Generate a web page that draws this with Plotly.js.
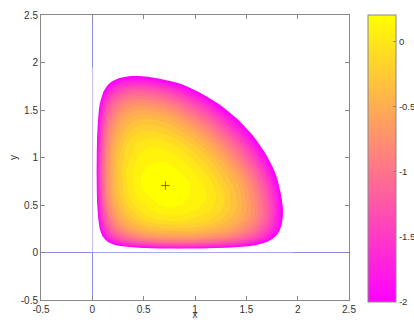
<!DOCTYPE html>
<html><head><meta charset="utf-8">
<script src="https://cdn.plot.ly/plotly-3.0.1.min.js"></script>
<style>html,body{margin:0;padding:0;background:#fff}</style></head><body>
<div id="chart" style="width:414px;height:320px"></div>
<script>
// sample positions of the surface (same for x and y)
const xGrid = [0, 0.025, 0.045, 0.07, 0.11, 0.16, 0.24, 0.34, 0.45, 0.58, 0.71, 0.84, 0.98, 1.13, 1.28, 1.42, 1.56, 1.68, 1.78, 1.86, 1.95];
const yGrid = [0, 0.025, 0.045, 0.07, 0.11, 0.16, 0.24, 0.34, 0.45, 0.58, 0.71, 0.84, 0.98, 1.13, 1.28, 1.42, 1.56, 1.68, 1.78, 1.86, 1.95];
// surface values; rows follow yGrid, columns follow xGrid (-2.77 = below the lowest level)
const zValues = [
 [-2.77,-2.77,-2.77,-2.77,-2.77,-2.77,-2.77,-2.77,-2.77,-2.77,-2.77,-2.77,-2.77,-2.77,-2.77,-2.77,-2.77,-2.77,-2.77,-2.77,-2.77],
 [-2.77,-2.77,-2.77,-2.77,-2.77,-2.77,-2.77,-2.77,-2.71,-2.62,-2.56,-2.53,-2.53,-2.59,-2.71,-2.77,-2.77,-2.77,-2.77,-2.77,-2.77],
 [-2.77,-2.77,-2.77,-2.77,-2.77,-2.77,-2.53,-2.26,-2.11,-1.99,-1.93,-1.9,-1.93,-1.99,-2.08,-2.23,-2.47,-2.77,-2.77,-2.77,-2.77],
 [-2.77,-2.77,-2.77,-2.77,-2.74,-2.41,-2.05,-1.81,-1.66,-1.54,-1.48,-1.45,-1.48,-1.54,-1.63,-1.78,-2.02,-2.35,-2.74,-2.77,-2.77],
 [-2.77,-2.77,-2.77,-2.74,-2.29,-1.96,-1.63,-1.36,-1.21,-1.09,-1.03,-1.03,-1.03,-1.09,-1.21,-1.36,-1.6,-1.93,-2.32,-2.77,-2.77],
 [-2.77,-2.77,-2.77,-2.41,-1.96,-1.6,-1.27,-1.03,-0.85,-0.73,-0.7,-0.67,-0.7,-0.76,-0.85,-1.03,-1.27,-1.6,-2.02,-2.47,-2.77],
 [-2.77,-2.77,-2.53,-2.05,-1.63,-1.27,-0.94,-0.67,-0.52,-0.4,-0.34,-0.34,-0.34,-0.43,-0.55,-0.73,-0.97,-1.33,-1.72,-2.2,-2.77],
 [-2.77,-2.77,-2.26,-1.81,-1.36,-1.03,-0.67,-0.43,-0.25,-0.13,-0.1,-0.07,-0.13,-0.19,-0.34,-0.52,-0.79,-1.15,-1.57,-2.05,-2.77],
 [-2.77,-2.71,-2.11,-1.66,-1.21,-0.85,-0.52,-0.25,-0.1,0.02,0.08,0.08,0.02,-0.07,-0.22,-0.43,-0.73,-1.09,-1.54,-2.02,-2.77],
 [-2.77,-2.62,-1.99,-1.54,-1.09,-0.73,-0.4,-0.13,0.02,0.11,0.17,0.14,0.08,-0.01,-0.19,-0.43,-0.76,-1.15,-1.6,-2.11,-2.77],
 [-2.77,-2.56,-1.93,-1.48,-1.03,-0.7,-0.34,-0.1,0.08,0.17,0.2,0.17,0.08,-0.04,-0.25,-0.49,-0.85,-1.27,-1.75,-2.29,-2.77],
 [-2.77,-2.53,-1.9,-1.45,-1.03,-0.67,-0.34,-0.07,0.08,0.14,0.17,0.11,0.02,-0.13,-0.37,-0.64,-1.03,-1.48,-1.99,-2.56,-2.77],
 [-2.77,-2.53,-1.93,-1.48,-1.03,-0.7,-0.34,-0.13,0.02,0.08,0.08,0.02,-0.1,-0.28,-0.55,-0.88,-1.3,-1.78,-2.35,-2.77,-2.77],
 [-2.77,-2.59,-1.99,-1.54,-1.09,-0.76,-0.43,-0.19,-0.07,-0.01,-0.04,-0.13,-0.28,-0.52,-0.82,-1.18,-1.66,-2.23,-2.77,-2.77,-2.77],
 [-2.77,-2.71,-2.08,-1.63,-1.21,-0.85,-0.55,-0.34,-0.22,-0.19,-0.25,-0.37,-0.55,-0.82,-1.18,-1.6,-2.14,-2.77,-2.77,-2.77,-2.77],
 [-2.77,-2.77,-2.23,-1.78,-1.36,-1.03,-0.73,-0.52,-0.43,-0.43,-0.49,-0.64,-0.88,-1.18,-1.6,-2.08,-2.71,-2.77,-2.77,-2.77,-2.77],
 [-2.77,-2.77,-2.47,-2.02,-1.6,-1.27,-0.97,-0.79,-0.73,-0.76,-0.85,-1.03,-1.3,-1.66,-2.14,-2.71,-2.77,-2.77,-2.77,-2.77,-2.77],
 [-2.77,-2.77,-2.77,-2.35,-1.93,-1.6,-1.33,-1.15,-1.09,-1.15,-1.27,-1.48,-1.78,-2.23,-2.77,-2.77,-2.77,-2.77,-2.77,-2.77,-2.77],
 [-2.77,-2.77,-2.77,-2.74,-2.32,-2.02,-1.72,-1.57,-1.54,-1.6,-1.75,-1.99,-2.35,-2.77,-2.77,-2.77,-2.77,-2.77,-2.77,-2.77,-2.77],
 [-2.77,-2.77,-2.77,-2.77,-2.77,-2.47,-2.2,-2.05,-2.02,-2.11,-2.29,-2.56,-2.77,-2.77,-2.77,-2.77,-2.77,-2.77,-2.77,-2.77,-2.77],
 [-2.77,-2.77,-2.77,-2.77,-2.77,-2.77,-2.77,-2.77,-2.77,-2.77,-2.77,-2.77,-2.77,-2.77,-2.77,-2.77,-2.77,-2.77,-2.77,-2.77,-2.77]
];
// equilibrium point marker
const centerX = [0.712];
const centerY = [0.705];
// colour scale limits and tick labels
const colorLimits = [-2, 0.205];
const cbTickVals = [-2, -1.5, -1, -0.5, 0];
const cbTickText = ['-2', '-1.5', '-1', '-0.5', '0'];
const axisTickVals = [-0.5, 0, 0.5, 1, 1.5, 2, 2.5];
const axisTickText = ['-0.5', '0', '0.5', '1', '1.5', '2', '2.5'];

const fnt = {family: 'Liberation Sans, Arial, sans-serif', size: 10, color: '#333'};
const traces = [
  {type: 'contour', x: xGrid, y: yGrid, z: zValues, showscale: false, hoverinfo: 'skip',
   contours: {start: -2, end: 0.1, size: 0.1, coloring: 'fill'},
   line: {width: 0, smoothing: 1},
   colorscale: [[0, '#ffffff'], [0.02, '#ffffff'], [0.04545, '#ff00ff'], [1, '#ffff00']]},
  {type: 'scatter', mode: 'markers', x: centerX, y: centerY, hoverinfo: 'skip',
   marker: {symbol: 'cross-thin', size: 6, color: '#a0522d', line: {width: 1, color: '#a0522d'}}},
  {type: 'heatmap', x: [10, 11], y: [10, 11], z: [colorLimits, colorLimits], hoverinfo: 'skip',
   zmin: colorLimits[0], zmax: colorLimits[1], colorscale: [[0, '#ff00ff'], [1, '#ffff00']], showscale: true,
   colorbar: {x: (368 - 41) / 308, xanchor: 'left', y: 1, yanchor: 'top', len: 287 / 285, lenmode: 'fraction',
     thickness: 28, thicknessmode: 'pixels', xpad: 0, ypad: 0,
     outlinewidth: 1, outlinecolor: '#888', ticks: 'inside', ticklen: 3, tickcolor: '#888',
     tickvals: cbTickVals, ticktext: cbTickText, tickfont: {family: fnt.family, size: 9.5, color: '#333'}}}
];
const ax = {range: [-0.5, 2.5], autorange: false, tickvals: axisTickVals, ticktext: axisTickText, showgrid: false,
  zeroline: true, zerolinecolor: '#8c8ce6', zerolinewidth: 1, showline: true, mirror: 'ticks',
  ticks: 'inside', ticklen: 4, tickcolor: '#888', linecolor: '#888', linewidth: 1, tickfont: fnt, automargin: false};
Plotly.newPlot('chart', traces, {
  width: 414, height: 320, margin: {l: 41, r: 65, t: 15, b: 20, autoexpand: false}, showlegend: false,
  paper_bgcolor: '#fff', plot_bgcolor: '#fff',
  xaxis: Object.assign({}, ax, {title: {text: 'x', font: fnt, standoff: 8}}),
  yaxis: Object.assign({}, ax, {title: {text: 'y', font: fnt, standoff: 1}})
}, {staticPlot: true});
</script></body></html>
